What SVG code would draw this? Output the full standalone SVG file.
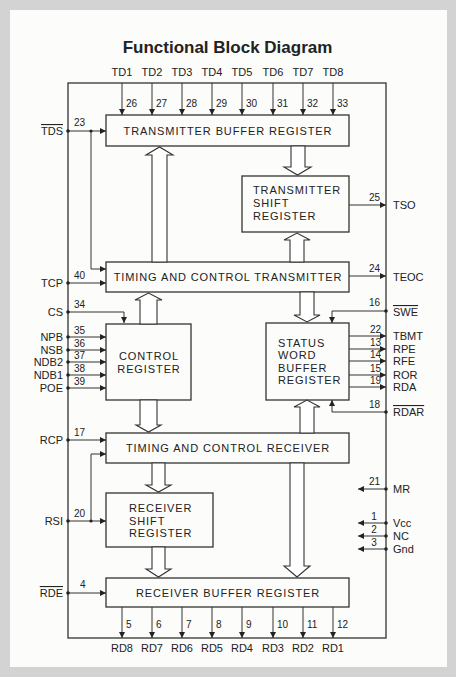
<svg xmlns="http://www.w3.org/2000/svg" width="456" height="677" viewBox="0 0 456 677">
<style>
text{font-family:"Liberation Sans",Arial,sans-serif;fill:#222;}
.t{font-size:17px;font-weight:bold;}
.b{font-size:11px;letter-spacing:0.9px;}
.p{font-size:11px;}
.n{font-size:10px;}
.c{text-anchor:middle;}
.e{text-anchor:end;}
.o{text-decoration:overline;}
.box{fill:none;stroke:#333;stroke-width:1.3;}
.w{fill:none;stroke:#333;stroke-width:1;}
.a{fill:none;stroke:#333;stroke-width:1;marker-end:url(#ah);}
.h{fill:#fff;stroke:#333;stroke-width:1.1;}
.d{fill:#222;}
</style>
<defs>
<marker id="ah" markerWidth="6" markerHeight="6" refX="6" refY="3" orient="auto" markerUnits="userSpaceOnUse">
<path d="M0,0 L6,3 L0,6 z" fill="#222"/>
</marker>
</defs>
<rect x="0" y="0" width="456" height="677" fill="#d3d3d3"/>
<rect x="10" y="10" width="437" height="657" fill="#fcfcfa"/>
<text class="t c" x="227.5" y="53">Functional Block Diagram</text>

<g id="chip"><rect class="box" x="68" y="83" width="318" height="555"/></g>

<g id="tbr"><rect class="box" x="106" y="115" width="243" height="31"/><text class="b c" x="228" y="135">TRANSMITTER BUFFER REGISTER</text></g>
<g id="tsr"><rect class="box" x="242" y="176" width="107" height="56"/><text class="b" x="253" y="194">TRANSMITTER</text><text class="b" x="253" y="207">SHIFT</text><text class="b" x="253" y="220">REGISTER</text></g>
<g id="tct"><rect class="box" x="106" y="262" width="243" height="30"/><text class="b c" x="228" y="281">TIMING AND CONTROL TRANSMITTER</text></g>
<g id="cr"><rect class="box" x="106" y="324" width="85" height="76"/><text class="b c" x="149" y="360">CONTROL</text><text class="b c" x="149" y="373">REGISTER</text></g>
<g id="swbr"><rect class="box" x="266" y="323" width="83" height="77"/><text class="b" x="278" y="347">STATUS</text><text class="b" x="278" y="359">WORD</text><text class="b" x="278" y="372">BUFFER</text><text class="b" x="278" y="384">REGISTER</text></g>
<g id="tcr"><rect class="box" x="106" y="433" width="243" height="30"/><text class="b c" x="228" y="452">TIMING AND CONTROL RECEIVER</text></g>
<g id="rsr"><rect class="box" x="106" y="493" width="107" height="54"/><text class="b" x="129" y="512">RECEIVER</text><text class="b" x="129" y="525">SHIFT</text><text class="b" x="129" y="537">REGISTER</text></g>
<g id="rbr"><rect class="box" x="106" y="578" width="243" height="29"/><text class="b c" x="228" y="597">RECEIVER BUFFER REGISTER</text></g>

<g id="connectors">
<path class="a" d="M122,83V115"/><path class="a" d="M152,83V115"/><path class="a" d="M182,83V115"/><path class="a" d="M212,83V115"/>
<path class="a" d="M242,83V115"/><path class="a" d="M273,83V115"/><path class="a" d="M303,83V115"/><path class="a" d="M333,83V115"/>
<path class="a" d="M122,607V638"/><path class="a" d="M152,607V638"/><path class="a" d="M182,607V638"/><path class="a" d="M212,607V638"/>
<path class="a" d="M242,607V638"/><path class="a" d="M273,607V638"/><path class="a" d="M303,607V638"/><path class="a" d="M333,607V638"/>
<path class="a" d="M68,131H106"/><path class="a" d="M91,131V269H106"/>
<path class="a" d="M68,283H106"/>
<path class="a" d="M68,312H124V323"/>
<path class="a" d="M68,337H106"/><path class="a" d="M68,350H106"/><path class="a" d="M68,362H106"/><path class="a" d="M68,375H106"/><path class="a" d="M68,388H106"/>
<path class="a" d="M68,440H106"/>
<path class="a" d="M68,521H106"/><path class="a" d="M91,521V454H106"/>
<path class="a" d="M68,593H106"/>
<path class="a" d="M349,205H386"/><path class="a" d="M349,276H386"/>
<path class="a" d="M386,311H332V323"/>
<path class="a" d="M349,336H386"/><path class="a" d="M349,349H386"/><path class="a" d="M349,361H386"/><path class="a" d="M349,375H386"/><path class="a" d="M349,387H386"/>
<path class="a" d="M386,412H332V400"/>
<path class="a" d="M386,489H358"/><path class="a" d="M386,523H358"/><path class="a" d="M386,536H358"/><path class="a" d="M386,549H358"/>
<circle class="d" cx="68" cy="131" r="1.8"/><circle class="d" cx="91" cy="131" r="1.6"/><circle class="d" cx="68" cy="283" r="1.8"/><circle class="d" cx="68" cy="312" r="1.8"/>
<circle class="d" cx="68" cy="337" r="1.8"/><circle class="d" cx="68" cy="350" r="1.8"/><circle class="d" cx="68" cy="362" r="1.8"/><circle class="d" cx="68" cy="375" r="1.8"/><circle class="d" cx="68" cy="388" r="1.8"/>
<circle class="d" cx="68" cy="440" r="1.8"/><circle class="d" cx="68" cy="521" r="1.8"/><circle class="d" cx="91" cy="521" r="1.6"/><circle class="d" cx="68" cy="593" r="1.8"/>
<circle class="d" cx="386" cy="311" r="1.8"/><circle class="d" cx="386" cy="412" r="1.8"/><circle class="d" cx="386" cy="489" r="1.8"/><circle class="d" cx="386" cy="523" r="1.8"/><circle class="d" cx="386" cy="536" r="1.8"/><circle class="d" cx="386" cy="549" r="1.8"/>
<polygon class="h" points="152,262 152,155 146,155 159.5,147 173,155 167,155 167,262"/>
<polygon class="h" points="291,146 291,167 284,167 297.5,175 311,167 305,167 305,146"/>
<polygon class="h" points="290,262 290,240 284,240 297,233 310,240 304,240 304,262"/>
<polygon class="h" points="140,324 140,300 135,300 148.5,293 162,300 157,300 157,324"/>
<polygon class="h" points="140,400 140,425 136,425 148.5,432 161,425 157,425 157,400"/>
<polygon class="h" points="300,292 300,315 294,315 307,322 320,315 314,315 314,292"/>
<polygon class="h" points="300,433 300,407 294,407 307,400 320,407 314,407 314,433"/>
<polygon class="h" points="152,463 152,485 146,485 158.5,492 171,485 165,485 165,463"/>
<polygon class="h" points="152,547 152,569 146,569 158.5,577 171,569 165,569 165,547"/>
<polygon class="h" points="290,463 290,566 284,566 297,577 310,566 304,566 304,463"/>
</g>

<g id="pins">
<text class="p c" x="122" y="76">TD1</text><text class="p c" x="152" y="76">TD2</text><text class="p c" x="182" y="76">TD3</text><text class="p c" x="212" y="76">TD4</text>
<text class="p c" x="242" y="76">TD5</text><text class="p c" x="273" y="76">TD6</text><text class="p c" x="303" y="76">TD7</text><text class="p c" x="333" y="76">TD8</text>
<text class="n" x="126" y="107">26</text><text class="n" x="156" y="107">27</text><text class="n" x="186" y="107">28</text><text class="n" x="216" y="107">29</text>
<text class="n" x="246" y="107">30</text><text class="n" x="277" y="107">31</text><text class="n" x="307" y="107">32</text><text class="n" x="337" y="107">33</text>
<text class="p c" x="122" y="652">RD8</text><text class="p c" x="152" y="652">RD7</text><text class="p c" x="182" y="652">RD6</text><text class="p c" x="212" y="652">RD5</text>
<text class="p c" x="242" y="652">RD4</text><text class="p c" x="273" y="652">RD3</text><text class="p c" x="303" y="652">RD2</text><text class="p c" x="333" y="652">RD1</text>
<text class="n" x="126" y="628">5</text><text class="n" x="156" y="628">6</text><text class="n" x="186" y="628">7</text><text class="n" x="216" y="628">8</text>
<text class="n" x="246" y="628">9</text><text class="n" x="277" y="628">10</text><text class="n" x="307" y="628">11</text><text class="n" x="337" y="628">12</text>

<text class="p e o" x="63" y="135">TDS</text><text class="n" x="74" y="126">23</text>
<text class="p e" x="63" y="287">TCP</text><text class="n" x="74" y="279">40</text>
<text class="p e" x="63" y="316">CS</text><text class="n" x="74" y="308">34</text>
<text class="p e" x="63" y="341">NPB</text><text class="n" x="74" y="334">35</text>
<text class="p e" x="63" y="354">NSB</text><text class="n" x="74" y="347">36</text>
<text class="p e" x="63" y="366">NDB2</text><text class="n" x="74" y="359">37</text>
<text class="p e" x="63" y="379">NDB1</text><text class="n" x="74" y="372">38</text>
<text class="p e" x="63" y="392">POE</text><text class="n" x="74" y="385">39</text>
<text class="p e" x="63" y="444">RCP</text><text class="n" x="74" y="436">17</text>
<text class="p e" x="63" y="525">RSI</text><text class="n" x="74" y="517">20</text>
<text class="p e o" x="63" y="597">RDE</text><text class="n" x="80" y="588">4</text>

<text class="p" x="393" y="209">TSO</text><text class="n e" x="380" y="201">25</text>
<text class="p" x="393" y="281">TEOC</text><text class="n e" x="380" y="272">24</text>
<text class="p o" x="393" y="316">SWE</text><text class="n e" x="380" y="306">16</text>
<text class="p" x="393" y="340">TBMT</text><text class="n e" x="381" y="333">22</text>
<text class="p" x="393" y="353">RPE</text><text class="n e" x="381" y="346">13</text>
<text class="p" x="393" y="365">RFE</text><text class="n e" x="381" y="358">14</text>
<text class="p" x="393" y="379">ROR</text><text class="n e" x="381" y="372">15</text>
<text class="p" x="393" y="391">RDA</text><text class="n e" x="381" y="384">19</text>
<text class="p o" x="393" y="416">RDAR</text><text class="n e" x="380" y="408">18</text>
<text class="p" x="393" y="493">MR</text><text class="n e" x="380" y="485">21</text>
<text class="p" x="393" y="527">Vcc</text><text class="n c" x="374" y="520">1</text>
<text class="p" x="393" y="540">NC</text><text class="n c" x="374" y="533">2</text>
<text class="p" x="393" y="553">Gnd</text><text class="n c" x="374" y="546">3</text>
</g>
</svg>
